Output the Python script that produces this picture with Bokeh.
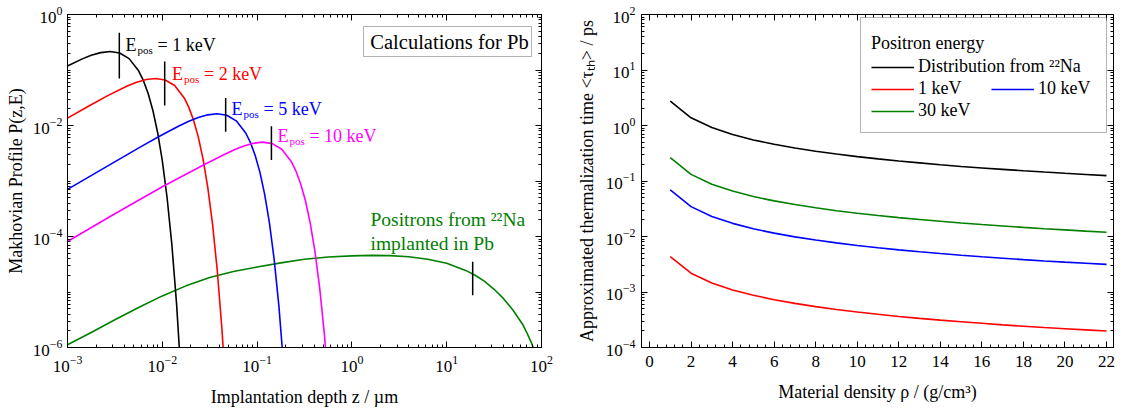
from bokeh.plotting import figure
from bokeh.models import (LogAxis, LinearAxis, FixedTicker, SingleIntervalTicker,
                          Label, Legend, LegendItem, BoxAnnotation)
from bokeh.layouts import row
from bokeh.embed import file_html
from bokeh.resources import INLINE

FONT = "Liberation Serif"

# ---------------- left panel data: Makhovian profiles in Pb ----------------
black_z = [0.001, 0.001413, 0.001778, 0.002239, 0.002818, 0.003548, 0.004467, 0.005623,
           0.00631, 0.007079, 0.007943, 0.008913, 0.01, 0.01122, 0.01259, 0.01413, 0.01585]
black_p = [0.1183, 0.157, 0.1837, 0.2056, 0.2153, 0.2023, 0.1603, 0.0968,
           0.0649, 0.038, 0.01888, 0.00757, 0.00232, 5.1e-4, 7.4e-5, 6.25e-6, 2.7e-7]

red_z = [0.001, 0.001698, 0.002692, 0.004266, 0.00537, 0.006761, 0.008511, 0.01072, 0.01349,
         0.01698, 0.01905, 0.02138, 0.02399, 0.02692, 0.0302, 0.03388, 0.03802, 0.04266, 0.04786]
red_p = [0.01355, 0.0227, 0.0349, 0.0514, 0.0601, 0.0673, 0.0705, 0.0662, 0.0525,
         0.0317, 0.0212, 0.01245, 0.00618, 0.00248, 7.6e-4, 1.67e-4, 2.42e-5, 2.05e-6, 8.9e-8]

blue_z = [0.001, 0.002399, 0.006026, 0.00955, 0.01514, 0.01905, 0.02399, 0.0302, 0.03802,
          0.04786, 0.06026, 0.07586, 0.08511, 0.0955, 0.1072, 0.1202, 0.1349, 0.1514, 0.1698,
          0.1905, 0.2138]
blue_p = [7.06e-4, 1.69e-3, 4.21e-3, 6.53e-3, 9.89e-3, 0.01189, 0.0139, 0.01556, 0.01629,
          0.01531, 0.01213, 7.33e-3, 4.91e-3, 2.88e-3, 1.43e-3, 5.73e-4, 1.76e-4, 3.86e-5,
          5.58e-6, 4.7e-7, 2.06e-8]

magenta_z = [0.001, 0.003162, 0.01, 0.02884, 0.04571, 0.05754, 0.07244, 0.0912, 0.1148,
             0.1445, 0.182, 0.2291, 0.257, 0.2884, 0.3236, 0.3631, 0.4074, 0.4571, 0.5129,
             0.5754, 0.6457]
magenta_p = [8.13e-5, 2.57e-4, 7.9e-4, 2.05e-3, 3.04e-3, 3.66e-3, 4.28e-3, 4.79e-3, 5.01e-3,
             4.71e-3, 3.73e-3, 2.25e-3, 1.51e-3, 8.85e-4, 4.4e-4, 1.76e-4, 5.41e-5, 1.19e-5,
             1.72e-6, 1.46e-7, 6.3e-9]

green_z = [0.001, 0.001778, 0.003162, 0.005623, 0.01, 0.01778, 0.03162, 0.05623, 0.1, 0.1778,
           0.3162, 0.5623, 1.0, 1.585, 2.512, 3.981, 6.31, 10.0, 15.85, 19.95, 25.12, 31.62,
           39.81, 50.12, 63.1, 70.8, 79.4, 85.1]
green_p = [1.12e-6, 1.86e-6, 3.16e-6, 5.25e-6, 8.51e-6, 1.29e-5, 1.82e-5, 2.34e-5, 2.82e-5,
           3.35e-5, 3.89e-5, 4.27e-5, 4.47e-5, 4.57e-5, 4.52e-5, 4.33e-5, 3.9e-5, 3.3e-5,
           2.45e-5, 2.0e-5, 1.55e-5, 1.12e-5, 7.59e-6, 4.68e-6, 2.63e-6, 1.78e-6, 1.15e-6,
           7.9e-7]

# mean-depth markers (vertical bars)
marker_z = [0.00352, 0.0106, 0.0466, 0.1416, 18.8]
marker_top = [0.47, 0.1416, 0.0313, 0.00968, 3.51e-5]
marker_bottom = [0.0703, 0.023, 0.00773, 0.00239, 8.7e-6]

energy_labels = ["1", "2", "5", "10"]
energy_colors = ["black", "#ff0000", "#0000ff", "#ff00ff"]
energy_label_z = [0.00409, 0.01265, 0.0537, 0.164]
energy_label_p = [0.288, 0.0843, 0.0202, 0.00634]

# ---------------- right panel data: thermalization time ----------------
density = [1, 2, 3, 4, 5, 6, 7, 8, 9, 10, 11, 12, 13, 14, 15, 16, 17, 18, 19, 20, 21, 22]
tau_na22 = [2.75, 1.375, 0.917, 0.688, 0.55, 0.458, 0.393, 0.344, 0.306, 0.275, 0.25,
            0.229, 0.212, 0.196, 0.183, 0.172, 0.162, 0.153, 0.145, 0.1375, 0.131, 0.125]
tau_1kev = [0.00436, 0.00218, 0.00145, 0.00109, 0.000872, 0.000727, 0.000623, 0.000545,
            0.000484, 0.000436, 0.000396, 0.000363, 0.000335, 0.000311, 0.000291, 0.000273,
            0.000256, 0.000242, 0.000229, 0.000218, 0.000208, 0.000198]
tau_10kev = [0.069, 0.0345, 0.023, 0.01725, 0.0138, 0.0115, 0.00986, 0.00863, 0.00767,
             0.0069, 0.00627, 0.00575, 0.00531, 0.00493, 0.0046, 0.00431, 0.00406, 0.00383,
             0.00363, 0.00345, 0.00329, 0.00314]
tau_30kev = [0.263, 0.1315, 0.0877, 0.0658, 0.0526, 0.0438, 0.0376, 0.0329, 0.0292, 0.0263,
             0.0239, 0.0219, 0.0202, 0.0188, 0.0175, 0.0164, 0.0155, 0.0146, 0.0138, 0.01315,
             0.0125, 0.01195]


def decades(lo, hi):
    return [10.0 ** k for k in range(lo, hi + 1)]


def minors(lo, hi):
    return [m * 10.0 ** k for k in range(lo, hi) for m in range(2, 10)]


def style_axis(ax):
    ax.axis_line_color = "black"
    ax.axis_line_width = 1
    ax.major_tick_in = 6
    ax.major_tick_out = 0
    ax.minor_tick_in = 3
    ax.minor_tick_out = 0
    ax.major_tick_line_color = "black"
    ax.minor_tick_line_color = "black"
    ax.major_label_text_font = FONT
    ax.major_label_text_color = "black"
    ax.axis_label_text_font = FONT
    ax.axis_label_text_font_size = "18px"
    ax.axis_label_text_font_style = "normal"
    ax.axis_label_text_color = "black"
    ax.major_label_text_font_size = "17px"


def mirror_axis(ax):
    style_axis(ax)
    ax.major_label_text_font_size = "1px"
    ax.major_label_text_alpha = 0.0
    ax.major_label_standoff = 0


def base_fig(**kw):
    p = figure(height=412, min_border_top=14, min_border_bottom=65,
               output_backend="svg", toolbar_location=None, **kw)
    p.grid.visible = False
    p.outline_line_color = "black"
    p.outline_line_width = 1
    p.background_fill_color = "white"
    p.border_fill_color = "white"
    return p


# ================= left figure =================
p1 = base_fig(width=560, x_axis_type="log", y_axis_type="log",
              x_range=(1e-3, 1e2), y_range=(1e-6, 1),
              min_border_left=67, min_border_right=19)

p1.xaxis.ticker = FixedTicker(ticks=decades(-3, 2), minor_ticks=minors(-3, 2))
p1.yaxis.ticker = FixedTicker(ticks=[1e-6, 1e-4, 1e-2, 1.0],
                              minor_ticks=minors(-6, 0) + [1e-5, 1e-3, 1e-1])
p1.xaxis.axis_label = "Implantation depth z / µm"
p1.yaxis.axis_label = "Makhovian Profile P(z,E)"
for ax in p1.xaxis + p1.yaxis:
    style_axis(ax)
p1.xaxis.major_label_standoff = 8
p1.xaxis.axis_label_standoff = 12
p1.yaxis.major_label_standoff = 5
p1.yaxis.axis_label_standoff = 4

top1 = LogAxis(ticker=FixedTicker(ticks=decades(-3, 2), minor_ticks=minors(-3, 2)))
mirror_axis(top1)
p1.add_layout(top1, "above")
right1 = LogAxis(ticker=FixedTicker(ticks=decades(-6, 0), minor_ticks=minors(-6, 0)))
mirror_axis(right1)
p1.add_layout(right1, "right")

LW = 1.6
p1.line(green_z, green_p, line_color="#008000", line_width=LW)
p1.line(black_z, black_p, line_color="black", line_width=LW)
p1.line(red_z, red_p, line_color="#ff0000", line_width=LW)
p1.line(blue_z, blue_p, line_color="#0000ff", line_width=LW)
p1.line(magenta_z, magenta_p, line_color="#ff00ff", line_width=LW)
p1.segment(x0=marker_z, y0=marker_bottom, x1=marker_z, y1=marker_top,
           line_color="black", line_width=1.5)

for e, c, zx, py in zip(energy_labels, energy_colors, energy_label_z, energy_label_p):
    p1.add_layout(Label(x=zx, y=py, text="E", text_font=FONT, text_font_size="18px",
                        text_color=c, text_baseline="middle"))
    p1.add_layout(Label(x=zx, y=py, x_offset=12, y_offset=-5, text="pos", text_font=FONT,
                        text_font_size="11px", text_color=c, text_baseline="middle"))
    p1.add_layout(Label(x=zx, y=py, x_offset=32, text="= %s keV" % e, text_font=FONT,
                        text_font_size="18px", text_color=c, text_baseline="middle"))

p1.add_layout(BoxAnnotation(left=1.325, right=78.5, top=0.608, bottom=0.175,
                            fill_color="white", fill_alpha=1.0,
                            line_color="black", line_width=1))
p1.add_layout(Label(x=10.7, y=0.313, text="Calculations for Pb", text_font=FONT,
                    text_font_size="20.5px", text_color="black", text_align="center",
                    text_baseline="middle"))

p1.add_layout(Label(x=1.57, y=2.05e-4, text="Positrons from ²²Na", text_font=FONT,
                    text_font_size="19.5px", text_color="#008000", text_baseline="middle"))
p1.add_layout(Label(x=1.57, y=7.48e-5, text="implanted in Pb", text_font=FONT,
                    text_font_size="19.5px", text_color="#008000", text_baseline="middle"))

# ================= right figure =================
p2 = base_fig(width=564, y_axis_type="log", x_range=(-0.385, 22.337), y_range=(1e-4, 1e2),
              min_border_left=81, min_border_right=11)
p2.xaxis.ticker = SingleIntervalTicker(interval=2, num_minor_ticks=5)
p2.yaxis.ticker = FixedTicker(ticks=decades(-4, 2), minor_ticks=minors(-4, 2))
p2.xaxis.axis_label = "Material density ρ / (g/cm³)"
p2.yaxis.axis_label = "Approximated thermalization time <τₜₕ> / ps"
for ax in p2.xaxis + p2.yaxis:
    style_axis(ax)
p2.xaxis.major_label_standoff = 8
p2.xaxis.axis_label_standoff = 12
p2.yaxis.major_label_standoff = 6
p2.yaxis.axis_label_standoff = 6

top2 = LinearAxis(ticker=SingleIntervalTicker(interval=2, num_minor_ticks=5))
mirror_axis(top2)
p2.add_layout(top2, "above")
right2 = LogAxis(ticker=FixedTicker(ticks=decades(-4, 2), minor_ticks=minors(-4, 2)))
mirror_axis(right2)
p2.add_layout(right2, "right")

r_na = p2.line(density, tau_na22, line_color="black", line_width=LW)
r_1 = p2.line(density, tau_1kev, line_color="#ff0000", line_width=LW)
r_10 = p2.line(density, tau_10kev, line_color="#0000ff", line_width=LW)
r_30 = p2.line(density, tau_30kev, line_color="#008000", line_width=LW)

p2.add_layout(BoxAnnotation(left=10.16, right=22.0, top=88.3, bottom=0.748,
                            fill_color="white", fill_alpha=1.0,
                            line_color="black", line_width=1))


def make_legend(items, loc, title=None):
    lg = Legend(items=items, location=loc, orientation="vertical",
                padding=0, margin=0, spacing=1, border_line_color=None,
                background_fill_alpha=0.0, label_text_font=FONT,
                label_text_font_size="18px", label_text_color="black",
                glyph_width=43, glyph_height=20, label_height=20,
                label_standoff=4)
    if title:
        lg.title = title
        lg.title_text_font = FONT
        lg.title_text_font_size = "18px"
        lg.title_text_font_style = "normal"
        lg.title_text_color = "black"
        lg.title_standoff = 2
    return lg


leg1 = make_legend([LegendItem(label="Distribution from ²²Na", renderers=[r_na]),
                    LegendItem(label="1 keV", renderers=[r_1]),
                    LegendItem(label="30 keV", renderers=[r_30])],
                   (230, 226), title="Positron energy")
leg2 = make_legend([LegendItem(label="10 keV", renderers=[r_10])], (350, 248))
p2.add_layout(leg1, "center")
p2.add_layout(leg2, "center")

layout = row(p1, p2)
open("out.html", "w").write(file_html(layout, INLINE))
